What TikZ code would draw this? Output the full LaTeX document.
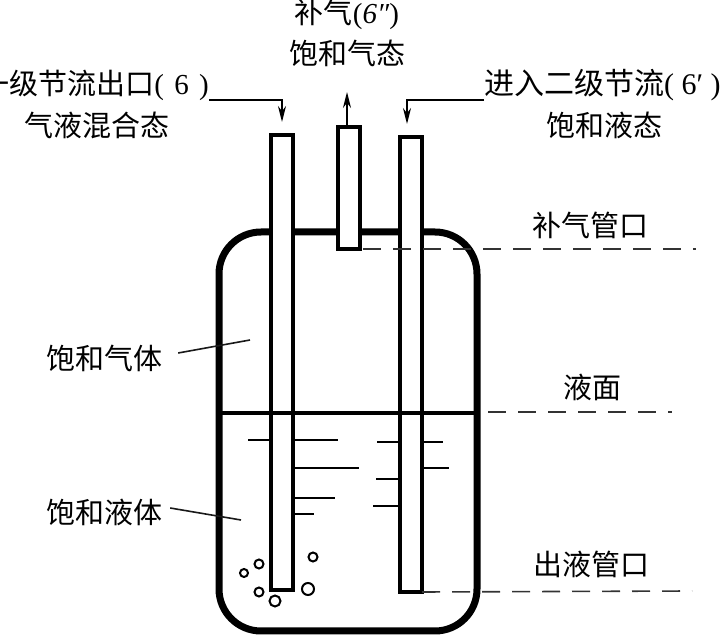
\documentclass[tikz,border=0pt]{standalone}
\usepackage{fontspec}
\setmainfont{Liberation Serif}
\newfontfamily\cjk{Noto Sans CJK SC}
\usetikzlibrary{
  positioning,
  arrows.meta
}
\tikzset{
  vessel/.style={
    draw=black, line width=7pt, rounded corners=42pt,
    minimum width=258pt, minimum height=399pt,
    anchor=north west, inner sep=0pt, outer sep=0pt
  },
  tube/.style={
    draw=black, fill=white, line width=3.5pt,
    minimum width=22pt,
    anchor=north west, inner sep=0pt, outer sep=0pt
  },
  tag/.style={
    font=\cjk\fontsize{29}{40}\selectfont, align=center,
    inner sep=0pt, text=black
  },
  flowarrow/.style={
    -{Stealth[length=16pt,width=8pt]}, line width=1.6pt, draw=black
  },
  leader/.style={line width=1.6pt, draw=black!90},
  dashleader/.style={line width=1.6pt, draw=black!80, dash pattern=on 18pt off 12pt},
  waveline/.style={line width=1.7pt, draw=black},
  bubble/.style={circle, draw=black, line width=2pt, inner sep=0pt, outer sep=0pt}
}
\begin{document}
\begin{tikzpicture}[x=1pt, y=-1pt]
    \useasboundingbox (0,0) rectangle (724,636);

    % Vessel and pipes
    \node[vessel] (tank) at (219,232) {};
    \node[tube, minimum height=455pt] (outlet) at (271,135) {};
    \node[tube, minimum height=122pt] (vent) at (338,127) {};
    \node[tube, minimum height=455pt] (inlet) at (400,137) {};

    % Liquid level
    \coordinate (levelL) at (219,413);
    \coordinate (levelR) at (477,413);
    \draw[line width=3.5pt] (levelL) -- (levelR);

    % Ripples
    \foreach \ya/\xb/\wd in {440/338/1.7, 468/359/1.7, 498/335/2.6, 514/314/1.7}
      \draw[waveline, line width=\wd pt] (outlet.east |- 0,\ya) -- (\xb,\ya);
    \draw[waveline] (outlet.west |- 0,440) -- (248,440);
    \foreach \ya/\xb/\wd in {442/377/1.7, 479/376/2.6, 506/373/1.7}
      \draw[waveline, line width=\wd pt] (inlet.west |- 0,\ya) -- (\xb,\ya);
    \foreach \ya/\xb in {442/443, 468/449}
      \draw[waveline] (inlet.east |- 0,\ya) -- (\xb,\ya);

    % Bubbles
    \foreach \x/\y/\d [count=\i] in {244/573/8, 259/564/9, 259/592/9, 275/601/11, 308/589/12, 313/557/9}
      \node[bubble, minimum width=\d pt, minimum height=\d pt] (bubble\i) at (\x,\y) {};

    % Labels
    \node[tag] (topA) at (347,14) {补气{\rmfamily(\textit{6}\textit{″})}};
    \node[tag, below=10pt of topA] (topB) {饱和气态};
    \node[tag, anchor=east] (outA) at (209,85) {一级节流出口{\rmfamily(\hspace{3pt} 6\hspace{3pt} )}};
    \node[tag] (outB) at (97,125) {气液混合态};
    \node[tag, anchor=west, font=\cjk\fontsize{30}{40}\selectfont] (inA) at (484,85) {进入二级节流{\rmfamily( 6′ )}};
    \node[tag] (inB) at (604,125) {饱和液态};
    \node[tag] (ventTag) at (590,225) {补气管口};
    \node[tag] (levelTag) at (592,387) {液面};
    \node[tag] (drainTag) at (591,564) {出液管口};
    \node[tag] (gasTag) at (104,358) {饱和气体};
    \node[tag] (liqTag) at (104,512) {饱和液体};

    % Free ends
    \coordinate (outTip) at (282,122);
    \coordinate (ventTip) at (347,92);
    \coordinate (inTip) at (407,124);
    \coordinate (ventEnd) at (696,249);
    \coordinate (levelStart) at (488,412);
    \coordinate (levelEnd) at (672,412);
    \coordinate (drainEnd) at (692,591);
    \coordinate (gasEnd) at (250,340);
    \coordinate (liqEnd) at (241,520);

    % Arrows
    \draw[flowarrow] (outA.east |- 0,100) -- (outTip |- 0,100) -- (outTip);
    \draw[flowarrow] (vent.north -| ventTip) -- (ventTip);
    \draw[flowarrow] (inA.west |- 0,100) -- (inTip |- 0,100) -- (inTip);

    % Leaders
    \draw[dashleader] (vent.south east) ++(3,0) -- (ventEnd);
    \draw[dashleader] (levelStart) -- (levelEnd);
    \draw[dashleader] (inlet.south east) -- (drainEnd);
    \draw[leader] (gasTag.east) ++(16,-5) -- (gasEnd);
    \draw[leader] (liqTag.east) ++(8,-4) -- (liqEnd);

  \end{tikzpicture}
\end{document}
